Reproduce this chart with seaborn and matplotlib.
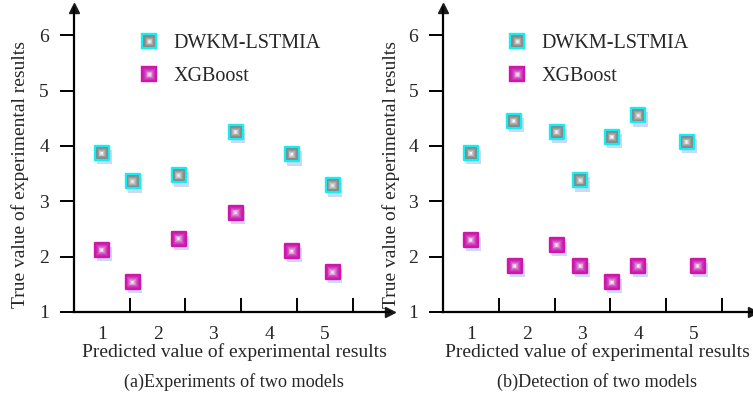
import numpy as np
import pandas as pd
import matplotlib
matplotlib.use("Agg")
import matplotlib.pyplot as plt
import matplotlib.transforms as mtransforms
import matplotlib.colors as mcolors
from matplotlib.lines import Line2D
from matplotlib.legend_handler import HandlerTuple
import seaborn as sns

sns.set_theme(style="white")
plt.rcParams['font.family'] = ['Liberation Serif', 'DejaVu Serif']

# ---------------- data ----------------
series_names = ["DWKM-LSTMIA", "XGBoost"]
x_ticks = [1, 2, 3, 4, 5]
y_ticks = [1, 2, 3, 4, 5, 6]

a_x = [1.0, 1.55, 2.38, 3.40, 4.41, 5.14]
a_dwkm = [3.87, 3.36, 3.47, 4.25, 3.85, 3.29]
a_xgb = [2.12, 1.54, 2.32, 2.79, 2.10, 1.72]

b_x = [1.0, 1.77, 2.54, 2.96, 3.53, 4.0, 4.87]
b_dwkm = [3.87, 4.45, 4.25, 3.38, 4.16, 4.55, 4.07]
b_x_xgb = [1.0, 1.79, 2.54, 2.96, 3.53, 4.0, 5.07]
b_xgb = [2.30, 1.83, 2.21, 1.83, 1.54, 1.83, 1.83]

x_label = "Predicted value of experimental results"
y_label = "True value of experimental results"
captions = ["(a)Experiments of two models", "(b)Detection of two models"]

# styles
edge_cols = {"DWKM-LSTMIA": "#10f0f4", "XGBoost": "#d214ac"}
outer_face = {"DWKM-LSTMIA": "#828282", "XGBoost": "#c82eb2"}
inner_face = {"DWKM-LSTMIA": "#f8f8f8", "XGBoost": "#fcf0fa"}
shadow_col = "#cbdaf2"
N_LAYERS = 7
OUTER_MS = 10.3   # points, full marker incl. edge
EDGE_W = 1.7


def grad_layers(name):
    c0 = np.array(mcolors.to_rgb(outer_face[name]))
    c1 = np.array(mcolors.to_rgb(inner_face[name]))
    layers = []
    for i in range(N_LAYERS):
        t = i / (N_LAYERS - 1)
        ms = (OUTER_MS - EDGE_W) * (1 - t) + 1.0 * t
        tc = t ** 1.4
        layers.append((ms, tuple(c0 * (1 - tc) + c1 * tc)))
    return layers


fig = plt.figure(figsize=(7.53, 3.94), dpi=100)
W, H = 753, 394


def add_axes_px(x0, x1, y0, y1):
    return fig.add_axes([x0 / W, 1 - y1 / H, (x1 - x0) / W, (y1 - y0) / H])


def draw_series(ax, xs, ys, name):
    df = pd.DataFrame({"x": xs, "y": ys})
    shadow_tr = mtransforms.offset_copy(ax.transData, fig=fig, x=2.5, y=-4, units="dots")
    sns.scatterplot(data=df, x="x", y="y", ax=ax, marker="s", s=(OUTER_MS + 0.3) ** 2,
                    color=shadow_col, edgecolor="none", linewidth=0,
                    transform=shadow_tr, zorder=2, legend=False)
    sns.scatterplot(data=df, x="x", y="y", ax=ax, marker="s", s=(OUTER_MS - EDGE_W / 2) ** 2,
                    color=outer_face[name], edgecolor=edge_cols[name],
                    linewidth=EDGE_W, zorder=3, legend=False)
    for k, (ms, col) in enumerate(grad_layers(name)[1:]):
        sns.scatterplot(data=df, x="x", y="y", ax=ax, marker="s", s=ms ** 2,
                        color=col, edgecolor="none", linewidth=0,
                        zorder=4 + k, legend=False)


def style_axes(ax, xmax, caption, label_cx):
    ax.set_xlim(0.5, xmax)
    ax.set_ylim(1, 6.49)
    for s in ["top", "right"]:
        ax.spines[s].set_visible(False)
    for s in ["left", "bottom"]:
        ax.spines[s].set_linewidth(1.6)
        ax.spines[s].set_color("black")
    ax.plot(1, 0, ">k", transform=ax.transAxes, clip_on=False, ms=7)
    ax.plot(0, 1, "^k", transform=ax.transAxes, clip_on=False, ms=7)
    ax.set_xticks(x_ticks)
    ax.set_xticklabels([str(t) for t in x_ticks], fontsize=14)
    ax.set_xticks([t + 0.5 for t in x_ticks], minor=True)
    ax.tick_params(axis="x", which="major", length=0, pad=10, bottom=True)
    ax.tick_params(axis="x", which="minor", direction="in", length=10, width=1.4,
                   color="black", bottom=True)
    ax.set_yticks(y_ticks)
    ax.set_yticklabels([str(t) for t in y_ticks], fontsize=14)
    ax.tick_params(axis="y", which="major", direction="out", length=10, width=1.4,
                   color="black", pad=8, left=True)
    ax.set_xlabel("")
    ax.set_ylabel("")
    fig.text(label_cx / W, 1 - 352 / H, x_label, ha="center", va="center", fontsize=14)
    fig.text(label_cx / W, 1 - 382 / H, caption, ha="center", va="center", fontsize=13.1)


def legend_handles():
    hs = []
    for name in series_names:
        parts = [Line2D([], [], ls="none", marker="s", ms=OUTER_MS - EDGE_W / 2,
                        mfc=outer_face[name], mec=edge_cols[name], mew=EDGE_W)]
        for ms, col in grad_layers(name)[1:]:
            parts.append(Line2D([], [], ls="none", marker="s", ms=ms, mfc=col, mec="none"))
        hs.append(tuple(parts))
    return hs


panels = [
    dict(px=(74, 390), xmax=6.17, xs_d=a_x, yd=a_dwkm, xs_x=a_x, yx=a_xgb,
         cap=captions[0], cx=234, ylab_x=20),
    dict(px=(443, 753), xmax=6.06, xs_d=b_x, yd=b_dwkm, xs_x=b_x_xgb, yx=b_xgb,
         cap=captions[1], cx=597, ylab_x=391),
]

for p in panels:
    ax = add_axes_px(p["px"][0], p["px"][1], 8, 312)
    ax.set_facecolor("white")
    draw_series(ax, p["xs_d"], p["yd"], series_names[0])
    draw_series(ax, p["xs_x"], p["yx"], series_names[1])
    style_axes(ax, p["xmax"], p["cap"], p["cx"])
    fig.text(p["ylab_x"] / W, 1 - 174 / H, y_label, rotation=90, ha="center",
             va="center", fontsize=14)
    ax.legend(legend_handles(), series_names, loc="upper left",
              bbox_to_anchor=(0.155, 0.975), frameon=False, fontsize=14.5,
              handler_map={tuple: HandlerTuple(ndivide=1, pad=0)},
              handlelength=0.8, handletextpad=0.8, labelspacing=0.72)

fig.savefig("out.png", dpi=100)
